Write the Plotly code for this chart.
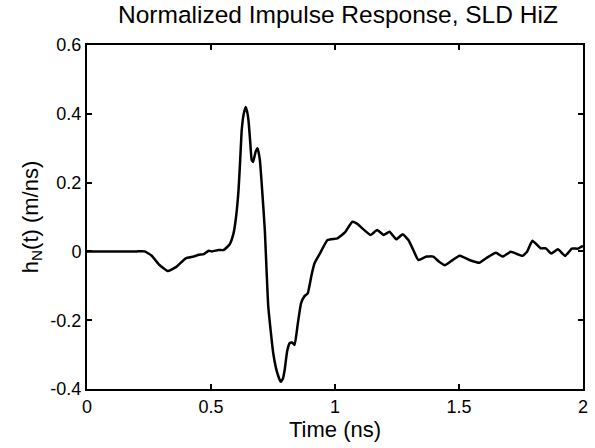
import plotly.graph_objects as go

time_ns = [0.0, 0.10, 0.20, 0.232, 0.26, 0.29, 0.325, 0.36, 0.398, 0.43, 0.451, 0.471, 0.491, 0.504,
           0.53, 0.551, 0.575, 0.591, 0.601, 0.611, 0.618, 0.624, 0.632, 0.640, 0.646, 0.651, 0.658,
           0.664, 0.670, 0.680, 0.688, 0.697, 0.707, 0.717, 0.731, 0.751, 0.766, 0.781, 0.790, 0.797,
           0.807, 0.817, 0.827, 0.837, 0.850, 0.863, 0.877, 0.890, 0.905, 0.917, 0.940, 0.970, 1.010,
           1.040, 1.070, 1.090, 1.110, 1.143, 1.170, 1.196, 1.220, 1.247, 1.273, 1.296, 1.315, 1.336,
           1.369, 1.396, 1.420, 1.443, 1.469, 1.503, 1.542, 1.582, 1.609, 1.649, 1.676, 1.709, 1.756,
           1.775, 1.796, 1.829, 1.850, 1.872, 1.899, 1.928, 1.955, 1.980, 2.0]
h_N = [0.0, 0.0, 0.0, 0.0, -0.012, -0.038, -0.057, -0.045, -0.02, -0.015, -0.01, -0.008, 0.002, 0.0,
       0.004, 0.004, 0.02, 0.053, 0.10, 0.178, 0.27, 0.353, 0.40, 0.42, 0.405, 0.382, 0.32,
       0.266, 0.26, 0.29, 0.30, 0.266, 0.17, 0.062, -0.161, -0.296, -0.35, -0.379, -0.37, -0.345,
       -0.29, -0.267, -0.265, -0.272, -0.21, -0.151, -0.13, -0.122, -0.07, -0.035, -0.005, 0.033, 0.038,
       0.055, 0.086, 0.08, 0.067, 0.048, 0.062, 0.048, 0.057, 0.035, 0.05, 0.033, 0.005, -0.025,
       -0.015, -0.015, -0.03, -0.04, -0.028, -0.013, -0.025, -0.033, -0.02, -0.004, -0.015, -0.001, -0.013,
       0.0, 0.031, 0.009, 0.009, -0.006, 0.006, -0.013, 0.008, 0.008, 0.016]

x_ticks = [0, 0.5, 1, 1.5, 2]
x_tick_text = ["0", "0.5", "1", "1.5", "2"]
y_ticks = [-0.4, -0.2, 0, 0.2, 0.4, 0.6]
y_tick_text = ["-0.4", "-0.2", "0", "0.2", "0.4", "0.6"]

font_family = "Liberation Sans, Arial, sans-serif"

fig = go.Figure()
fig.add_trace(go.Scatter(x=time_ns, y=h_N, mode="lines",
                         line=dict(color="black", width=2.5, shape="spline", smoothing=0.4),
                         showlegend=False))

axis_common = dict(showgrid=False, zeroline=False, showline=True, linecolor="black", linewidth=2,
                   mirror="ticks", ticks="inside", ticklen=5, tickwidth=1.5, tickcolor="black",
                   tickfont=dict(size=18, color="black", family=font_family))

fig.update_xaxes(range=[0, 2], tickvals=x_ticks, ticktext=x_tick_text,
                 title=dict(text="Time (ns)", font=dict(size=22, color="black", family=font_family),
                            standoff=2),
                 **axis_common)
fig.update_yaxes(range=[-0.4, 0.6], tickvals=y_ticks, ticktext=y_tick_text,
                 title=dict(text="h<sub>N</sub>(t) (m/ns)", font=dict(size=22, color="black", family=font_family),
                            standoff=6),
                 **axis_common)

fig.update_layout(
    width=595, height=448,
    margin=dict(l=87, r=7, t=45, b=59),
    paper_bgcolor="white", plot_bgcolor="white",
    title=dict(text="Normalized Impulse Response, SLD HiZ", x=0.568, xanchor="center",
               y=0.968, yanchor="middle",
               font=dict(size=24.5, color="black", family=font_family)),
)

fig.write_html("out.html")
